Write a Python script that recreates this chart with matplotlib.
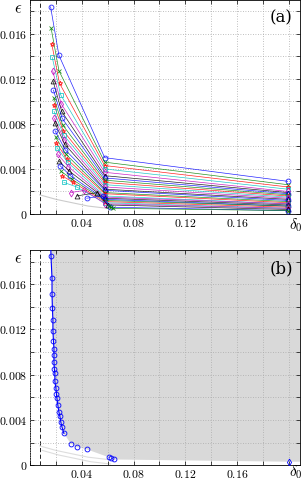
import matplotlib
matplotlib.use("Agg")
import matplotlib.pyplot as plt
from matplotlib.ticker import MultipleLocator, FuncFormatter

plt.rcParams["mathtext.fontset"] = "cm"
plt.rcParams["font.family"] = "serif"
plt.rcParams["font.serif"] = ["DejaVu Serif"]

# panel (a): one polyline per run, four points each
del_left = [0.0159, 0.0163, 0.0168, 0.0172, 0.0176, 0.0178, 0.0181, 0.0184, 0.0185, 0.0186,
            0.0188, 0.0191, 0.0193, 0.0199, 0.0204, 0.0208, 0.0215, 0.0223, 0.0231, 0.0238,
            0.0246, 0.0262, 0.0315, 0.0362, 0.0438, 0.0608]
eps_left = [0.0184, 0.0165, 0.0151, 0.0139, 0.0127, 0.0118, 0.0110, 0.0103, 0.0097, 0.0091,
            0.0085, 0.0081, 0.0074, 0.0068, 0.0063, 0.0059, 0.0053, 0.0047, 0.0043, 0.0038,
            0.0034, 0.0028, 0.0019, 0.0016, 0.0014, 0.0007]
del_second = [0.0223, 0.0224, 0.0228, 0.0236, 0.0240, 0.0245, 0.0248, 0.0252, 0.0256, 0.0260,
              0.0264, 0.0268, 0.0272, 0.0278, 0.0284, 0.0290, 0.0296, 0.0304, 0.0312, 0.0322,
              0.0335, 0.0360, 0.0420, 0.0520, 0.0560, 0.0625]
eps_second = [0.0141, 0.0127, 0.0116, 0.0106, 0.0098, 0.0091, 0.0085, 0.0079, 0.0074, 0.0070,
              0.0066, 0.0062, 0.0057, 0.0053, 0.0049, 0.0046, 0.0042, 0.0038, 0.0034, 0.0031,
              0.0028, 0.0024, 0.0021, 0.0019, 0.0016, 0.0006]
del_mid = [0.0577] * 22 + [0.0580, 0.0600, 0.0620, 0.0640]
eps_mid = [0.0050, 0.0046, 0.0043, 0.0040, 0.0037, 0.0034, 0.0032, 0.0030, 0.0028, 0.0026,
           0.0024, 0.0022, 0.0021, 0.0019, 0.0018, 0.0016, 0.0015, 0.0014, 0.0013, 0.0012,
           0.0011, 0.0010, 0.0009, 0.0008, 0.0006, 0.0005]
del_right = [0.199] * 26
eps_right = [0.0029, 0.0026, 0.0024, 0.0022, 0.0020, 0.0019, 0.0018, 0.0017, 0.0016, 0.0015,
             0.0014, 0.0013, 0.0012, 0.0011, 0.0010, 0.0009, 0.0009, 0.0008, 0.0007, 0.0007,
             0.0006, 0.0005, 0.0005, 0.0004, 0.0003, 0.0003]

colors = ["b", "g", "r", "c", "m", "k"]
markers = ["o", "x", "*", "s", "d", "^"]

bound_del = [0.0075, 0.0200, 0.0450, 0.0600]
bound_eps = [0.0017, 0.0013, 0.0007, 0.0005]

# panel (b): front of best points
front_del = [0.0160, 0.0162, 0.0170, 0.0170, 0.0173, 0.0177, 0.0177, 0.0181, 0.0185, 0.0185,
             0.0185, 0.0188, 0.0192, 0.0192, 0.0200, 0.0204, 0.0208, 0.0215, 0.0223, 0.0231,
             0.0238, 0.0246, 0.0262, 0.0315, 0.0362, 0.0438, 0.0608, 0.0623, 0.0646]
front_eps = [0.0195, 0.0185, 0.0165, 0.0151, 0.0139, 0.0128, 0.0119, 0.0110, 0.0103, 0.0097,
             0.0091, 0.0085, 0.0081, 0.0074, 0.0068, 0.0063, 0.0059, 0.0053, 0.0047, 0.0043,
             0.0038, 0.0034, 0.0028, 0.0019, 0.0016, 0.0014, 0.0007, 0.0006, 0.0005]
far_del = 0.200
far_eps = 0.0003

delta_ref = 0.0077
xmax, ymax = 0.2085, 0.0190


def x_label(v, pos):
    k = round(v / 0.02)
    if k % 2 == 0 and 0 < k < 10:
        return f"${v:.2f}$"
    return ""


def y_label(v, pos):
    k = round(v / 0.002)
    if k == 0:
        return "$0$"
    if k % 2 == 0:
        return f"${v:.3f}$"
    return ""


def style_axes(ax, label):
    ax.set_xlim(0, xmax)
    ax.set_ylim(0, ymax)
    ax.xaxis.set_major_locator(MultipleLocator(0.02))
    ax.yaxis.set_major_locator(MultipleLocator(0.002))
    ax.xaxis.set_major_formatter(FuncFormatter(x_label))
    ax.yaxis.set_major_formatter(FuncFormatter(y_label))
    ax.tick_params(direction="in", length=3, width=0.5, labelsize=8.5, pad=2, top=True, right=True)
    ax.grid(True, color="#aaaaaa", linestyle=(0, (1, 2)), linewidth=0.6)
    ax.set_axisbelow(False)
    for s in ax.spines.values():
        s.set_linewidth(0.6)
    ax.axvline(delta_ref, color="k", linestyle=(0, (5, 3)), linewidth=0.6)
    ax.text(-0.028, 1.0, r"$\epsilon$", transform=ax.transAxes, fontsize=12, ha="right", va="top")
    ax.text(0.93, 0.915, label, transform=ax.transAxes, fontsize=12, ha="center", va="center",
            fontfamily="DejaVu Serif")


fig = plt.figure(figsize=(3.03, 4.83), dpi=100)
ax1 = fig.add_axes([0.099, 0.557, 0.891, 0.443])
ax2 = fig.add_axes([0.099, 0.037, 0.891, 0.445])

style_axes(ax1, "(a)")
ax1.annotate(r"$\delta_0$", xy=(0.985, 0.515), xycoords=("axes fraction", "figure fraction"),
             fontsize=11, ha="center", va="bottom")
ax1.plot(bound_del, bound_eps, color="#cccccc", linewidth=0.8, zorder=1)
for i in range(len(eps_left)):
    c = colors[i % len(colors)]
    m = markers[i % len(markers)]
    ax1.plot([del_left[i], del_second[i], del_mid[i], del_right[i]],
             [eps_left[i], eps_second[i], eps_mid[i], eps_right[i]],
             color=c, marker=m, markersize=3.5, markerfacecolor="none",
             markeredgewidth=0.6, linewidth=0.5, alpha=0.85, zorder=3)

style_axes(ax2, "(b)")
ax2.annotate(r"$\delta_0$", xy=(0.985, 0.004), xycoords=("axes fraction", "figure fraction"),
             fontsize=11, ha="center", va="bottom")
poly_x = front_del + [0.0646, far_del, xmax, xmax, front_del[0]]
poly_y = front_eps + [0.0005, far_eps, far_eps, ymax, ymax]
ax2.fill(poly_x, poly_y, color="#d9d9d9", linewidth=0, zorder=0.5)
ax2.plot(bound_del, bound_eps, color="#dddddd", linewidth=0.8, zorder=1)
ax2.plot([d + 0.002 for d in bound_del], [e - 0.0004 for e in bound_eps], color="#dddddd",
         linewidth=0.8, zorder=1)
ax2.plot(front_del[:23], front_eps[:23], color="b", linewidth=0.8, zorder=3)
ax2.plot(front_del[1:], front_eps[1:], linestyle="none", marker="o", markersize=3.5,
         markerfacecolor="none", markeredgecolor="b", markeredgewidth=0.6, zorder=3)
ax2.plot([far_del], [far_eps], linestyle="none", marker="d", markersize=3.5,
         markerfacecolor="none", markeredgecolor="b", markeredgewidth=0.6, zorder=3)

fig.savefig("out.png", dpi=100)
